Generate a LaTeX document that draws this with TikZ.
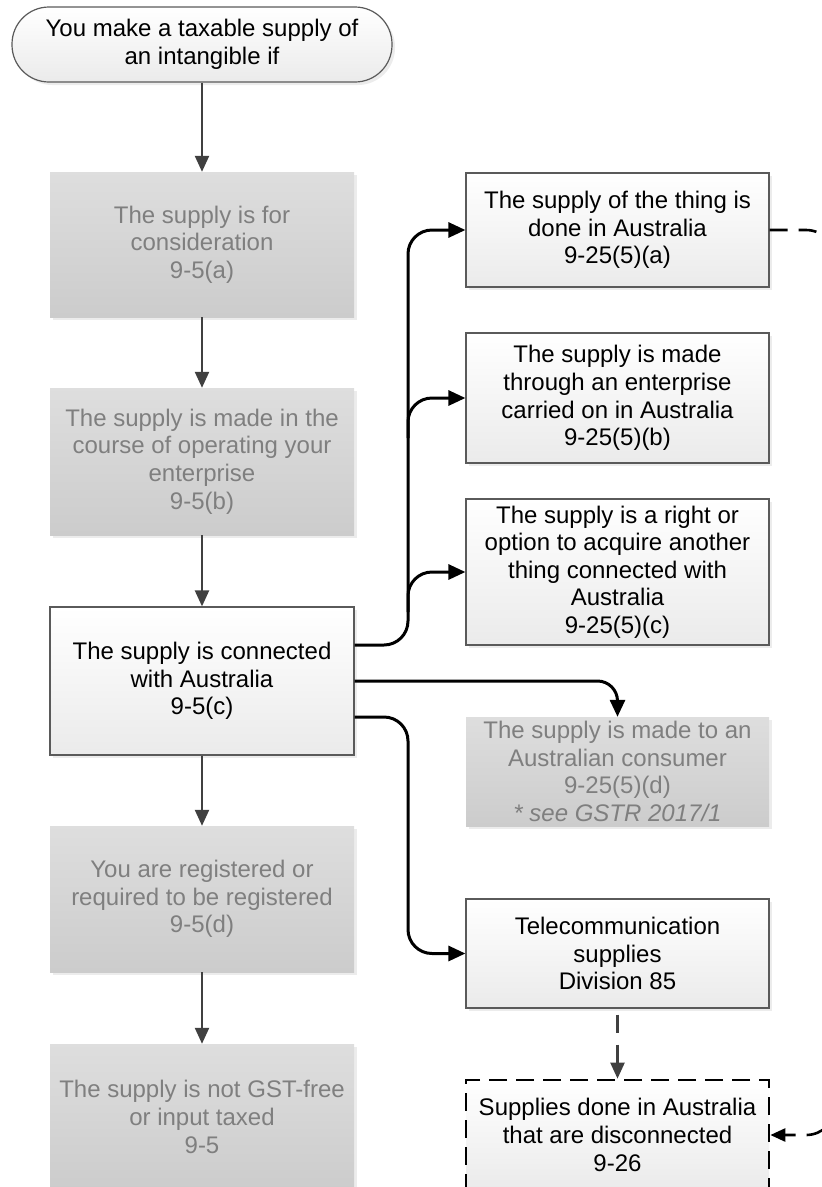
\documentclass[tikz,border=0pt]{standalone}
\usepackage{fontspec}
\setmainfont{Liberation Sans}
\usetikzlibrary{arrows.meta,calc,shadows}
\definecolor{txtgrey}{HTML}{7F7F7F}
\definecolor{edgegrey}{HTML}{5A5A5A}
\definecolor{arrgrey}{HTML}{404040}
\def\dconn{\draw[conn,rounded corners=24pt]}
\def\ddown{\draw[down]}

\begin{document}
\begin{tikzpicture}[x=1pt,y=1pt,
    every node/.style={font=\fontsize{24pt}{27.6pt}\selectfont,align=center,inner sep=0pt},
    soft/.style={drop shadow={shadow xshift=3pt,shadow yshift=-3pt,fill=black!12,opacity=0.6}},
    whitebox/.style={rectangle,draw=edgegrey,line width=1.2pt,top color=white,bottom color=black!8,soft},
    greybox/.style={rectangle,top color=black!13,bottom color=black!20,text=txtgrey,soft},
    dashbox/.style={rectangle,draw=black,line width=2.7pt,dash pattern=on 18pt off 9pt,top color=white,bottom color=black!8},
    leftcol/.style={minimum width=304pt},
    rightcol/.style={minimum width=303pt},
    down/.style={draw=arrgrey,line width=2.3pt,-{Triangle[length=16pt,width=14pt]}},
    conn/.style={line width=3pt,-{Triangle[length=17pt,width=15pt]}},
    loopline/.style={line width=2.6pt,dash pattern=on 18pt off 11pt,rounded corners=30pt,-{Triangle[length=15pt,width=13pt]}}]
                \useasboundingbox (0,0) rectangle (822,-1187);
                \clip (0,0) rectangle (822,-1187);
                \node[whitebox,minimum width=380pt,minimum height=75pt,rounded corners=37pt] (start) at (202,-44.5) {You make a taxable supply of\\an intangible if};
                \node[greybox,leftcol,minimum height=145pt] (consid)  at (202,-244.5) {The supply is for\\consideration\\9-5(a)};
                \node[greybox,leftcol,minimum height=147pt] (enterp)  at (202,-461.5) {The supply is made in the\\course of operating your\\enterprise\\9-5(b)};
                \node[whitebox,leftcol,minimum height=148pt] (connect) at (202,-681)  {The supply is connected\\with Australia\\9-5(c)};
                \node[greybox,leftcol,minimum height=146pt] (regd)    at (202,-899)   {You are registered or\\required to be registered\\9-5(d)};
                \node[greybox,leftcol,minimum height=146pt] (notfree) at (202,-1117)  {The supply is not GST-free\\or input taxed\\9-5};
                \node[whitebox,rightcol,minimum height=114pt] (done)    at (617.5,-230)   {The supply of the thing is\\done in Australia\\9-25(5)(a)};
                \node[whitebox,rightcol,minimum height=130pt] (through) at (617.5,-398)   {The supply is made\\through an enterprise\\carried on in Australia\\9-25(5)(b)};
                \node[whitebox,rightcol,minimum height=146pt] (option)  at (617.5,-572)   {The supply is a right or\\option to acquire another\\thing connected with\\Australia\\9-25(5)(c)};
                \node[greybox,rightcol,minimum height=109pt]  (consumer) at (617.5,-771.5) {The supply is made to an\\Australian consumer\\9-25(5)(d)\\{\itshape * see GSTR 2017/1}};
                \node[whitebox,rightcol,minimum height=109pt] (telco)   at (617.5,-953.5) {Telecommunication\\supplies\\Division 85};
                \node[dashbox,rightcol,minimum height=110pt]  (disconn) at (617.5,-1135)  {Supplies done in Australia\\that are disconnected\\9-26};
                \coordinate (bus)  at (408,0);
                \coordinate (edge) at (836,0);
                \ddown (start)   -- (consid);
                \ddown (consid)  -- (enterp);
                \ddown (enterp)  -- (connect);
                \ddown (connect) -- (regd);
                \ddown (regd)    -- (notfree);
                \dconn ([yshift=36pt]connect.east) -| (bus |- done.west) -- (done.west);
                \dconn ($(bus |- through.west)+(0,-40)$) |- (through.west);
                \dconn ($(bus |- option.west)+(0,-40)$) |- (option.west);
                \draw[conn,rounded corners=20pt] (connect.east) -| (consumer.north);
                \dconn ([yshift=-36pt]connect.east) -| (bus |- telco.west) -- (telco.west);
                \draw[down,dash pattern=on 18pt off 12pt] ([yshift=-6pt]telco.south) -- (disconn.north);
                \draw[loopline] (done.east) -| (edge |- disconn.east) -- (disconn.east);
            \end{tikzpicture}
\end{document}
